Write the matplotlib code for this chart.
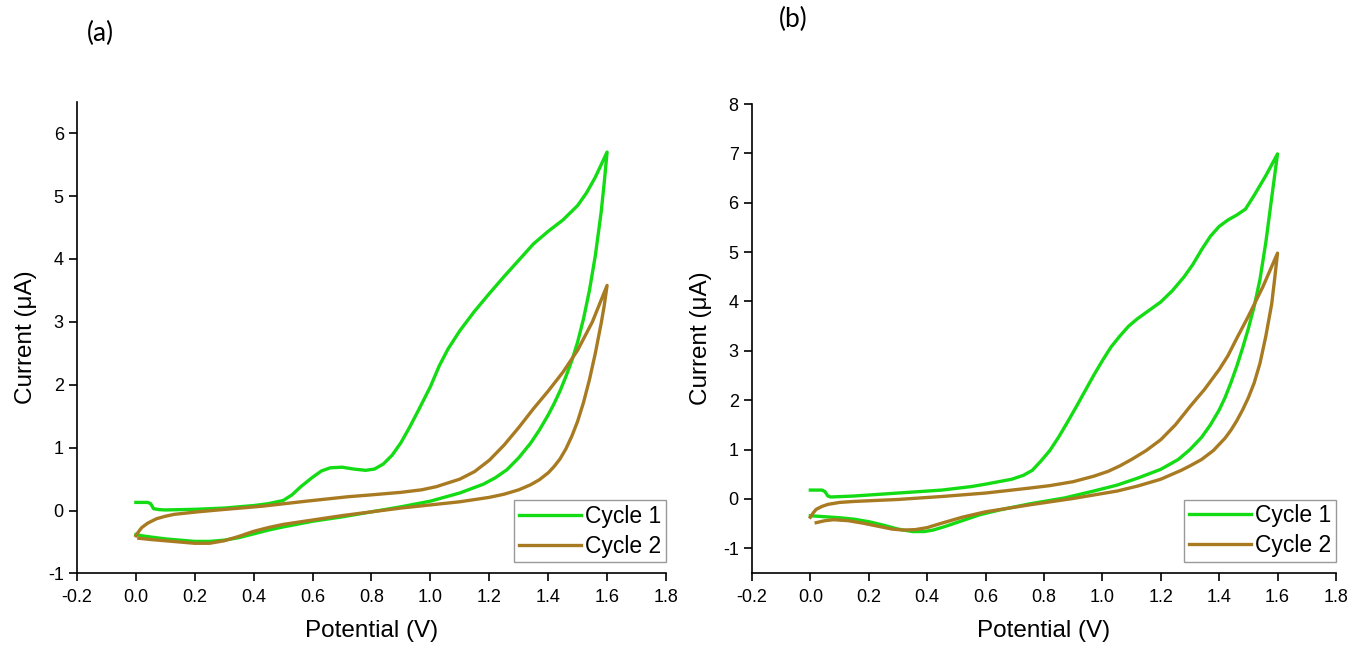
import numpy as np
import matplotlib
matplotlib.use("Agg")
import matplotlib.pyplot as plt
from matplotlib.ticker import FormatStrFormatter

plt.rcParams['font.family'] = ['Liberation Sans', 'DejaVu Sans']
plt.rcParams['axes.unicode_minus'] = False

# ---- panel (a) ----
a_c1_fwd_v = [0.0, 0.04, 0.05, 0.06, 0.08, 0.1, 0.2, 0.3, 0.4, 0.45, 0.5, 0.53, 0.56, 0.6, 0.63,
              0.66, 0.7, 0.74, 0.78, 0.81, 0.84, 0.87, 0.9, 0.93, 0.96, 1.0, 1.03, 1.06, 1.1,
              1.15, 1.2, 1.25, 1.3, 1.35, 1.4, 1.45, 1.5, 1.53, 1.56, 1.6]
a_c1_fwd_i = [0.13, 0.13, 0.11, 0.03, 0.015, 0.01, 0.02, 0.04, 0.08, 0.11, 0.16, 0.25, 0.38, 0.53, 0.63,
              0.68, 0.69, 0.66, 0.64, 0.66, 0.74, 0.88, 1.08, 1.33, 1.6, 1.97, 2.3, 2.57, 2.86,
              3.17, 3.45, 3.72, 3.98, 4.24, 4.44, 4.62, 4.85, 5.05, 5.3, 5.7]
a_c1_rev_v = [1.6, 1.59, 1.58, 1.56, 1.54, 1.52, 1.5, 1.48, 1.46, 1.44, 1.42, 1.4, 1.37, 1.34,
              1.3, 1.26, 1.22, 1.18, 1.1, 1.0, 0.9, 0.8, 0.7, 0.6, 0.5, 0.45, 0.4, 0.35, 0.3,
              0.25, 0.2, 0.15, 0.1, 0.05, 0.02, 0.0]
a_c1_rev_i = [5.7, 5.2, 4.75, 4.05, 3.5, 3.05, 2.68, 2.38, 2.13, 1.9, 1.7, 1.52, 1.28, 1.07,
              0.84, 0.65, 0.52, 0.42, 0.28, 0.15, 0.06, -0.02, -0.1, -0.17, -0.26, -0.31, -0.37, -0.43, -0.47,
              -0.49, -0.49, -0.47, -0.45, -0.42, -0.4, -0.38]

a_c2_fwd_v = [0.0, 0.01, 0.02, 0.04, 0.07, 0.1, 0.13, 0.17, 0.21, 0.28, 0.43, 0.58, 0.72, 0.8,
              0.9, 0.97, 1.02, 1.06, 1.1, 1.15, 1.2, 1.25, 1.3, 1.35, 1.4, 1.45, 1.5, 1.55, 1.6]
a_c2_fwd_i = [-0.4, -0.33, -0.27, -0.2, -0.13, -0.09, -0.06, -0.04, -0.02, 0.01, 0.07, 0.15, 0.22, 0.25,
              0.29, 0.33, 0.38, 0.44, 0.5, 0.62, 0.8, 1.04, 1.32, 1.62, 1.9, 2.2, 2.55, 3.0, 3.58]
a_c2_rev_v = [1.6, 1.59, 1.58, 1.56, 1.54, 1.52, 1.5, 1.48, 1.46, 1.44, 1.42, 1.4, 1.37, 1.34,
              1.3, 1.25, 1.2, 1.1, 1.0, 0.9, 0.8, 0.7, 0.6, 0.5, 0.45, 0.4, 0.35, 0.3, 0.25,
              0.2, 0.15, 0.1, 0.05, 0.01]
a_c2_rev_i = [3.58, 3.25, 2.98, 2.5, 2.08, 1.72, 1.42, 1.18, 0.98, 0.82, 0.7, 0.6, 0.49, 0.41,
              0.33, 0.26, 0.21, 0.14, 0.09, 0.04, -0.02, -0.08, -0.15, -0.22, -0.27, -0.33, -0.41, -0.48, -0.52,
              -0.52, -0.5, -0.48, -0.46, -0.44]

# ---- panel (b) ----
b_c1_fwd_v = [0.0, 0.04, 0.05, 0.06, 0.07, 0.15, 0.3, 0.45, 0.55, 0.6, 0.69, 0.73, 0.76, 0.79,
              0.82, 0.85, 0.88, 0.91, 0.94, 0.97, 1.0, 1.03, 1.06, 1.09, 1.12, 1.16, 1.2, 1.24,
              1.28, 1.31, 1.34, 1.37, 1.4, 1.43, 1.46, 1.49, 1.52, 1.56, 1.6]
b_c1_fwd_i = [0.18, 0.18, 0.15, 0.06, 0.04, 0.06, 0.12, 0.18, 0.25, 0.3, 0.4, 0.48, 0.58, 0.77,
              0.98, 1.25, 1.55, 1.86, 2.18, 2.5, 2.8, 3.08, 3.3, 3.5, 3.65, 3.82, 3.99, 4.22,
              4.5, 4.75, 5.05, 5.32, 5.52, 5.65, 5.75, 5.87, 6.15, 6.55, 6.99]
b_c1_rev_v = [1.6, 1.58, 1.56, 1.54, 1.52, 1.5, 1.48, 1.46, 1.44, 1.42, 1.4, 1.37, 1.34, 1.3,
              1.26, 1.2, 1.12, 1.05, 0.97, 0.87, 0.75, 0.65, 0.58, 0.52, 0.46, 0.42, 0.39, 0.35,
              0.3, 0.25, 0.2, 0.15, 0.1, 0.05, 0.0]
b_c1_rev_i = [6.99, 6.1, 5.2, 4.45, 3.9, 3.45, 3.05, 2.68, 2.35, 2.05, 1.8, 1.5, 1.25, 1.0,
              0.8, 0.6, 0.42, 0.28, 0.16, 0.02, -0.1, -0.22, -0.32, -0.44, -0.56, -0.63, -0.66, -0.66,
              -0.61, -0.53, -0.46, -0.41, -0.38, -0.36, -0.34]

b_c2_fwd_v = [0.0, 0.01, 0.02, 0.04, 0.06, 0.1, 0.15, 0.3, 0.45, 0.6, 0.75, 0.82, 0.9, 0.97,
              1.02, 1.06, 1.1, 1.15, 1.2, 1.25, 1.3, 1.35, 1.4, 1.43, 1.46, 1.5, 1.55, 1.6]
b_c2_fwd_i = [-0.37, -0.28, -0.21, -0.15, -0.11, -0.07, -0.05, -0.01, 0.05, 0.12, 0.22, 0.27, 0.35, 0.46,
              0.56, 0.67, 0.8, 0.98, 1.2, 1.5, 1.87, 2.22, 2.62, 2.9, 3.25, 3.7, 4.3, 4.98]
b_c2_rev_v = [1.6, 1.59, 1.58, 1.56, 1.54, 1.52, 1.5, 1.48, 1.46, 1.44, 1.42, 1.38, 1.34, 1.3,
              1.27, 1.2, 1.12, 1.05, 0.9, 0.75, 0.6, 0.52, 0.45, 0.4, 0.36, 0.32, 0.28, 0.23,
              0.18, 0.13, 0.08, 0.05, 0.02]
b_c2_rev_i = [4.98, 4.45, 3.95, 3.3, 2.75, 2.35, 2.05, 1.8, 1.58, 1.39, 1.23, 0.98, 0.8, 0.67,
              0.58, 0.4, 0.26, 0.16, 0.01, -0.12, -0.26, -0.37, -0.49, -0.58, -0.62, -0.63, -0.61, -0.55,
              -0.49, -0.44, -0.42, -0.44, -0.48]

green = '#14DC14'
brown = '#A87B22'


def draw_panel(ax, c1, c2, ylim, yticks):
    ax.plot(c1[0], c1[1], color=green, lw=2.4, label='Cycle 1', solid_joinstyle='round')
    ax.plot(c2[0], c2[1], color=brown, lw=2.4, label='Cycle 2', solid_joinstyle='round')
    ax.set_xlim(-0.2, 1.8)
    ax.set_ylim(*ylim)
    ax.set_xticks(np.arange(-0.2, 1.81, 0.2))
    ax.set_yticks(yticks)
    ax.xaxis.set_major_formatter(FormatStrFormatter('%.1f'))
    for s in ['top', 'right']:
        ax.spines[s].set_visible(False)
    for s in ['left', 'bottom']:
        ax.spines[s].set_linewidth(1.2)
    ax.tick_params(direction='out', length=5.5, width=1.2, labelsize=13)
    ax.tick_params(axis='x', pad=6)
    ax.tick_params(axis='y', pad=4)
    ax.set_xlabel('Potential (V)', fontsize=17.5, labelpad=10)
    ax.set_ylabel('Current (\u03bcA)', fontsize=17.5, labelpad=8)
    leg = ax.legend(loc='lower right', bbox_to_anchor=(1.0, 0.024), borderaxespad=0,
                    fontsize=16.5, frameon=True, fancybox=False, handlelength=2.7,
                    handletextpad=0.2, borderpad=0.2, labelspacing=0.3)
    leg.get_frame().set_edgecolor('#808080')
    leg.get_frame().set_linewidth(1.0)


fig = plt.figure(figsize=(13.6, 6.48), dpi=100)
ax_a = fig.add_axes([0.0566, 0.115, 0.4331, 0.728])
ax_b = fig.add_axes([0.5529, 0.1157, 0.4294, 0.7238])

draw_panel(ax_a,
           (a_c1_fwd_v + a_c1_rev_v, a_c1_fwd_i + a_c1_rev_i),
           (a_c2_fwd_v + a_c2_rev_v, a_c2_fwd_i + a_c2_rev_i),
           (-1, 6.5), range(-1, 7))
draw_panel(ax_b,
           (b_c1_fwd_v + b_c1_rev_v, b_c1_fwd_i + b_c1_rev_i),
           (b_c2_fwd_v + b_c2_rev_v, b_c2_fwd_i + b_c2_rev_i),
           (-1.5, 8), range(-1, 9))

fig.text(100 / 1360, 1 - 33 / 648, '(a)', fontsize=19, family=['Lato', 'DejaVu Sans'],
         ha='center', va='center')
fig.text(793 / 1360, 1 - 19 / 648, '(b)', fontsize=19, family=['Lato', 'DejaVu Sans'],
         ha='center', va='center')

fig.savefig('out.png', dpi=100)
